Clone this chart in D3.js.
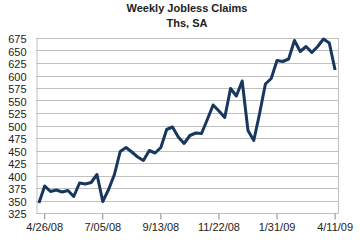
<!DOCTYPE html>
<html lang="en">
<head>
<meta charset="utf-8">
<title>Weekly Jobless Claims</title>
<script src="https://cdn.jsdelivr.net/npm/d3@7"></script>
<style>
  * { margin: 0; padding: 0; }
  body { background: #fff; }
  svg text { font-family: "Liberation Sans", Arial, sans-serif; fill: #222; }
</style>
</head>
<body>
<div id="chart"></div>
<script>
  // weekly claims, thousands, week ending 4/19/08 .. 4/11/09
  var claims = [345, 379, 368, 371, 367, 370, 358, 385, 383, 386,
                402, 348, 372, 402, 448, 456, 447, 437, 430, 450,
                445, 456, 492, 497, 477, 464, 480, 485, 484, 512,
                541, 529, 516, 574, 559, 589, 490, 470, 524, 583,
                594, 630, 628, 633, 670, 648, 658, 646, 658, 673,
                665, 611];
  var xTickLabels = ["4/26/08", "7/05/08", "9/13/08", "11/22/08", "1/31/09", "4/11/09"];
  var yTicks = [325, 350, 375, 400, 425, 450, 475, 500, 525, 550, 575, 600, 625, 650, 675];

  var W = 360, H = 240;
  var plotL = 36, plotR = 338, plotT = 38, plotB = 213;

  var svg = d3.select("#chart").append("svg")
      .attr("width", W).attr("height", H);

  var x = d3.scaleBand()
      .domain(d3.range(claims.length))
      .range([plotL, plotR]);
  var y = d3.scaleLinear()
      .domain([325, 675])
      .range([plotB, plotT]);

  // gridlines
  svg.append("g").selectAll("line")
      .data(yTicks)
      .enter().append("line")
      .attr("x1", plotL).attr("x2", plotR + 0.5)
      .attr("y1", function(d) { return Math.round(y(d)) + 0.5; })
      .attr("y2", function(d) { return Math.round(y(d)) + 0.5; })
      .attr("stroke", "#c0c0c0");

  // right side of the box
  svg.append("line")
      .attr("x1", plotR + 0.5).attr("x2", plotR + 0.5)
      .attr("y1", plotT).attr("y2", plotB)
      .attr("stroke", "#c0c0c0");

  // y axis
  var yAxis = d3.axisLeft(y).tickValues(yTicks).tickSize(0).tickPadding(10);
  var yG = svg.append("g")
      .attr("transform", "translate(" + (plotL + 0.5) + ",0)")
      .call(yAxis);
  yG.select(".domain").attr("stroke", "#c0c0c0");
  yG.selectAll("text").attr("font-size", "11px").attr("dy", "0.42em");

  // x axis: label every 10th week starting at 4/26/08
  var tickIdx = xTickLabels.map(function(d, i) { return 1 + i * 10; });
  var xAxis = d3.axisBottom(x)
      .tickValues(tickIdx)
      .tickSize(6)
      .tickPadding(4)
      .tickFormat(function(d, i) { return xTickLabels[i]; });
  var xG = svg.append("g")
      .attr("transform", "translate(0," + (Math.round(plotB) + 0.5) + ")")
      .call(xAxis);
  xG.select(".domain").attr("stroke", "#c0c0c0").attr("d", "M" + plotL + ",0H" + (plotR + 0.5));
  xG.selectAll(".tick line").attr("stroke", "#888");
  xG.selectAll("text").attr("font-size", "11px");

  // line
  var line = d3.line()
      .x(function(d, i) { return x(i) + x.bandwidth() / 2; })
      .y(function(d) { return y(d); });
  svg.append("path")
      .datum(claims)
      .attr("d", line)
      .attr("fill", "none")
      .attr("stroke", "#17375e")
      .attr("stroke-width", 3)
      .attr("stroke-linejoin", "round");

  // titles
  svg.append("text")
      .attr("x", (plotL + plotR) / 2).attr("y", 12)
      .attr("text-anchor", "middle")
      .attr("font-size", "11px").attr("font-weight", "bold")
      .text("Weekly Jobless Claims");
  svg.append("text")
      .attr("x", (plotL + plotR) / 2).attr("y", 27)
      .attr("text-anchor", "middle")
      .attr("font-size", "11px").attr("font-weight", "bold")
      .text("Ths, SA");
</script>
</body>
</html>
